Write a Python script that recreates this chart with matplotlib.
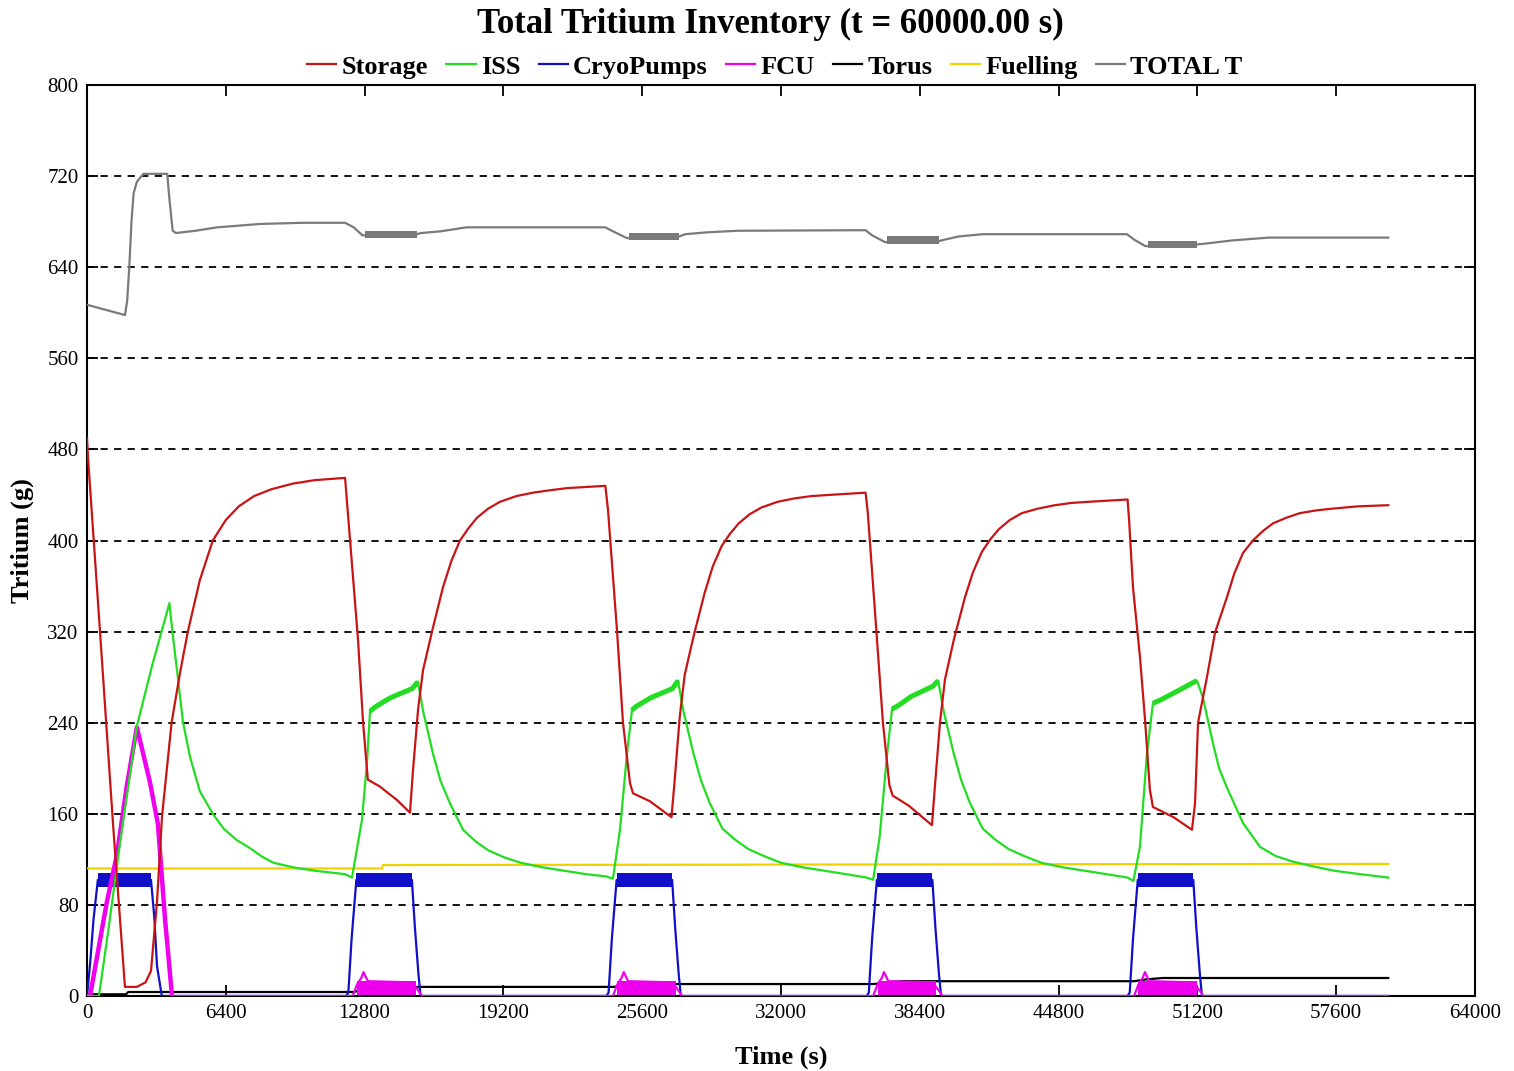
import matplotlib
matplotlib.use("Agg")
import matplotlib.pyplot as plt
import numpy as np

# ---------------- data ----------------
storage_t = [0, 50, 600, 1200, 1750, 2300, 2700, 2950, 3230, 3460, 3900, 4300, 4650, 5200, 5800, 6400, 7000, 7700, 8500, 9500, 10500, 11900,
             12500, 12730, 12950, 13500, 14300, 14893, 15031, 15262, 15493, 15907, 16415, 16800, 17198, 17600, 17982, 18500, 19043, 19800, 20565, 21300, 22132, 23900,
             24023, 24438, 24714, 25037, 25175, 25959, 26950, 27100, 27330, 27560, 27970, 28480, 28850, 29260, 29650, 30050, 30550, 31100, 31850, 32630, 33400, 34200, 35900,
             36000, 36400, 36700, 37000, 37150, 37900, 38960, 39100, 39330, 39560, 39970, 40480, 40850, 41260, 41650, 42050, 42550, 43100, 43850, 44630, 45400, 46200, 47980,
             48050, 48230, 48550, 48780, 49010, 49150, 50100, 50950, 51090, 51230, 51640, 52010, 52560, 52900, 53300, 53760, 54200, 54680, 55300, 55920, 56700, 57440, 58600, 60000]
storage_v = [490, 472, 320, 151, 8, 8, 12, 22, 83, 158, 240, 285, 320, 365, 400, 418, 430, 439, 445, 450, 453, 455,
             312, 240, 190, 184, 172, 161, 198, 251, 286, 320, 359, 382, 400, 411, 420, 428, 434, 439, 442, 444, 446, 448,
             427, 321, 240, 187, 178, 171, 157, 190, 245, 282, 316, 354, 377, 395, 406, 415, 423, 429, 434, 437, 439, 440, 442,
             425, 320, 240, 185, 176, 167, 150, 185, 240, 278, 313, 350, 372, 390, 401, 410, 418, 424, 428, 431, 433, 434, 436,
             418, 359, 298, 244, 181, 166, 157, 146, 169, 240, 280, 319, 350, 371, 389, 400, 408, 415, 420, 424, 426.5, 428, 430, 431]

iss_t = [0, 550, 1000, 1520, 2300, 3000, 3800, 3950, 4150, 4430, 4750, 5200, 5800, 6300, 6900, 7500, 8100, 8600, 9500, 10500, 11900,
         12220, 12680, 12910, 13050, 13300, 14000, 15000, 15260, 15500, 15950, 16300, 16740, 17340, 17900, 18500, 19200, 20000, 21000, 22000, 23000, 23950,
         24250, 24576, 24900, 25130, 25300, 26000, 27000, 27250, 27490, 27950, 28300, 28700, 29300, 29900, 30500, 31200, 32000, 33000, 34000, 35000, 35950,
         36250, 36550, 36880, 37120, 37400, 38000, 39000, 39250, 39490, 39950, 40300, 40700, 41300, 41900, 42500, 43200, 44000, 45000, 46000, 47000, 47980,
         48250, 48550, 48874, 49150, 49500, 50300, 51180, 51455, 51917, 52200, 52562, 53300, 54084, 54800, 55600, 56500, 57500, 58700, 60000]
iss_v = [0, 0, 60, 134, 237, 290, 345, 318, 286, 240, 210, 180, 160, 147, 137, 130, 122, 117, 113, 110, 107,
         104, 155, 205, 250, 254, 262, 270, 276, 250, 213, 189, 169, 146, 136, 128, 122, 117, 113, 110, 107, 105,
         103, 146, 213, 251, 254, 262, 270, 277, 251, 214, 190, 170, 147, 137, 129, 123, 117, 113, 110, 107, 104,
         102, 140, 210, 252, 255, 263, 272, 277, 251, 214, 190, 170, 147, 137, 129, 123, 117, 113, 110, 107, 104,
         101, 131, 213, 257, 260, 268, 277, 262, 222, 200, 183, 152, 131, 123, 118, 114, 110, 107, 104]
iss_noisy_start = [13050, 25130, 37120, 49150]
iss_noisy_end = [15260, 27250, 39250, 51180]

cryo_t = [0, 150, 300, 500, 2950, 3100, 3230, 3450,
          11950, 12050, 12200, 12420, 14980, 15120, 15280, 15380,
          23950, 24050, 24200, 24420, 26980, 27120, 27280, 27380,
          35950, 36050, 36200, 36420, 38980, 39120, 39280, 39380,
          47980, 48080, 48230, 48450, 51010, 51150, 51310, 51410, 60000]
cryo_v = [0, 30, 67, 102, 102, 70, 26, 0,
          0, 3, 50, 102, 102, 60, 20, 0,
          0, 3, 50, 102, 102, 60, 20, 0,
          0, 3, 50, 102, 102, 60, 20, 0,
          0, 3, 50, 102, 102, 60, 20, 0, 0]
cryo_band_start = [500, 12420, 24420, 36420, 48450]
cryo_band_end = [2950, 14980, 26980, 38980, 51010]
cryo_band_lo = 96
cryo_band_hi = 108

fcu_t = [0, 140, 920, 1380, 1840, 2300, 2900, 3270, 3600, 3920,
         11950, 12250, 12450, 12650, 12750, 12950, 14950, 15150, 15450,
         23950, 24250, 24450, 24650, 24750, 24950, 26950, 27150, 27450,
         35950, 36250, 36450, 36650, 36750, 36950, 38950, 39150, 39450,
         47980, 48280, 48480, 48680, 48780, 48980, 50980, 51180, 51480, 60000]
fcu_v = [0, 0, 83, 124, 185, 236, 188, 151, 67, 0,
         0, 0, 10, 16, 21, 13, 12, 8, 0,
         0, 0, 10, 16, 21, 13, 12, 8, 0,
         0, 0, 10, 16, 21, 13, 12, 8, 0,
         0, 0, 10, 16, 21, 13, 12, 8, 0, 0]
fcu_band_start = [12450, 24450, 36450, 48480]
fcu_band_end = [15150, 27150, 39150, 51180]
fcu_band_lo = 1
fcu_band_hi = 13

torus_t = [0, 1800, 1900, 12300, 12800, 13600, 24300, 24800, 25600, 36300, 36800, 37600, 48300, 48800, 49600, 60000]
torus_v = [1.5, 1.5, 3.5, 3.5, 6, 8, 8, 9.5, 10.5, 10.5, 12, 13, 13, 14.5, 15.8, 15.8]

fuel_t = [0, 13600, 13650, 60000]
fuel_v = [112, 112, 115, 116]

total_t = [0, 1750, 1850, 1950, 2050, 2150, 2300, 2600, 3700, 3800, 3950, 4100, 5000, 6000, 8000, 10000, 11900,
           12300, 12700, 15200, 15400, 16300, 17500, 23900, 24200, 24900, 27300, 27600, 28500, 30000, 35900,
           36200, 36800, 39300, 39500, 40200, 41300, 47950, 48300, 48800, 51200, 51700, 52800, 54500, 60000]
total_v = [607, 598, 610, 640, 680, 705, 715, 722, 722, 700, 672, 670, 672, 675, 678, 679, 679,
           675, 668, 669, 670, 671.5, 675, 675, 672, 665.5, 667, 669, 670.5, 672, 672.5,
           668, 662, 663, 664, 667, 669, 669, 664, 658.5, 660, 661, 663.5, 666, 666]
total_band_start = [12800, 25000, 36900, 48900]
total_band_end = [15200, 27300, 39300, 51200]
total_band_lo = [666, 664, 660, 657]
total_band_hi = [672, 670, 667, 663]

y_ticks = [0, 80, 160, 240, 320, 400, 480, 560, 640, 720, 800]
x_ticks = [0, 6400, 12800, 19200, 25600, 32000, 38400, 44800, 51200, 57600, 64000]

# ---------------- styling ----------------
C_STORAGE = "#c81414"
C_ISS = "#22dd22"
C_CRYO = "#1010c8"
C_FCU = "#ee00ee"
C_TORUS = "#000000"
C_FUEL = "#f0d000"
C_TOTAL = "#7a7a7a"
SERIF = ["Liberation Serif", "DejaVu Serif"]

W, H = 1514, 1071
fig = plt.figure(figsize=(W / 100, H / 100), dpi=100)
ax = fig.add_axes([87 / W, 75 / H, 1388 / W, 911 / H])

for y in y_ticks[1:-1]:
    ax.axhline(y, color="black", lw=1.3, ls=(0, (4, 3.5)), zorder=1)

lw = 1.6
ax.plot(total_t, total_v, color=C_TOTAL, lw=lw, zorder=3)
for s, e, lo, hi in zip(total_band_start, total_band_end, total_band_lo, total_band_hi):
    ax.fill_between([s, e], [lo, lo], [hi, hi], color=C_TOTAL, lw=0, zorder=3)

ax.plot(fuel_t, fuel_v, color=C_FUEL, lw=lw, zorder=3)
ax.plot(torus_t, torus_v, color=C_TORUS, lw=lw, zorder=4)

ax.plot(cryo_t, cryo_v, color=C_CRYO, lw=lw, zorder=4)
for s, e in zip(cryo_band_start, cryo_band_end):
    ax.fill_between([s, e], [cryo_band_lo] * 2, [cryo_band_hi] * 2, color=C_CRYO, lw=0, zorder=4)

ax.plot(fcu_t, fcu_v, color=C_FCU, lw=lw, zorder=5)
ax.plot(fcu_t[:10], fcu_v[:10], color=C_FCU, lw=3.2, zorder=5)
for s, e in zip(fcu_band_start, fcu_band_end):
    ax.fill_between([s, e], [fcu_band_lo] * 2, [fcu_band_hi] * 2, color=C_FCU, lw=0, zorder=5)

iss_t_arr = np.array(iss_t)
iss_v_arr = np.array(iss_v)
ax.plot(iss_t, iss_v, color=C_ISS, lw=lw, zorder=5)
for s, e in zip(iss_noisy_start, iss_noisy_end):
    m = (iss_t_arr >= s) & (iss_t_arr <= e)
    ax.plot(iss_t_arr[m], iss_v_arr[m], color=C_ISS, lw=3.6, zorder=5, solid_capstyle="butt")

ax.plot(storage_t, storage_v, color=C_STORAGE, lw=lw, zorder=6)

ax.set_xlim(0, 64000)
ax.set_ylim(0, 800)
ax.set_xticks(x_ticks)
ax.set_yticks(y_ticks)
ax.set_xticklabels([str(v) for v in x_ticks], fontfamily=SERIF, fontsize=15)
ax.set_yticklabels([str(v) for v in y_ticks], fontfamily=SERIF, fontsize=15)
ax.tick_params(direction="in", length=8, width=1.3, top=True, right=True, pad=6)
for sp in ax.spines.values():
    sp.set_linewidth(1.5)

ax.set_xlabel("Time (s)", fontfamily=SERIF, fontsize=19, fontweight="bold", labelpad=16)
ax.set_ylabel("Tritium (g)", fontfamily=SERIF, fontsize=19, fontweight="bold", labelpad=10)

fig.text(770 / W, 1 - 24 / H, "Total Tritium Inventory (t = 60000.00 s)", ha="center", va="center",
         fontfamily=SERIF, fontsize=25, fontweight="bold")

names = ["Storage", "ISS", "CryoPumps", "FCU", "Torus", "Fuelling", "TOTAL T"]
colors = [C_STORAGE, C_ISS, C_CRYO, C_FCU, C_TORUS, C_FUEL, C_TOTAL]
handles = [plt.Line2D([], [], color=c, lw=1.6) for c in colors]
fig.legend(handles, names, loc="center", bbox_to_anchor=(775 / W, 1 - 67 / H), ncol=7, frameon=False,
           handlelength=1.1, handletextpad=0.2, columnspacing=0.7,
           prop={"family": SERIF, "size": 19, "weight": "bold"})

fig.savefig("out.png", dpi=100)
